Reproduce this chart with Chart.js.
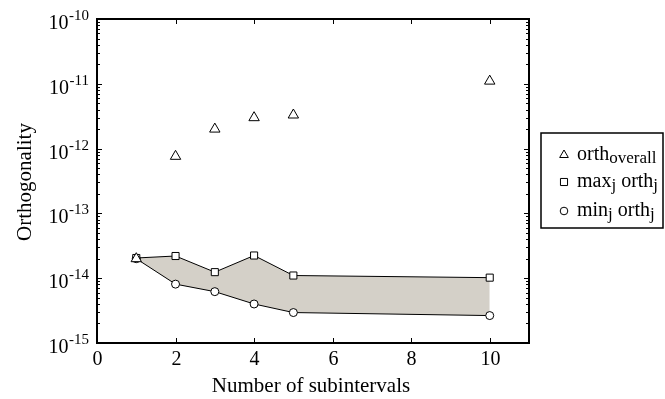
<!DOCTYPE html>
<html>
<head>
<meta charset="utf-8">
<script src="https://cdn.jsdelivr.net/npm/chart.js@4"></script>
<style>
  html, body { margin: 0; padding: 0; background: #fff; }
  canvas { display: block; }
</style>
</head>
<body>
<canvas id="orthChart" width="665" height="399"></canvas>
<script>
// values
const subintervals = [1, 2, 3, 4, 5, 10];
const orthOverall = [2.0e-14, 7.6e-13, 2.0e-12, 3.0e-12, 3.3e-12, 1.1e-11];
const orthMax = [2.05e-14, 2.2e-14, 1.24e-14, 2.24e-14, 1.1e-14, 1.02e-14];
const orthMin = [2.0e-14, 8.1e-15, 6.2e-15, 4.0e-15, 2.95e-15, 2.65e-15];
const xTicks = [0, 2, 4, 6, 8, 10];
const yExponents = [-15, -14, -13, -12, -11, -10];

const FONT = "'Liberation Serif', 'Times New Roman', serif";

function toPoints(ys) {
  return subintervals.map((x, i) => ({ x: x, y: ys[i] }));
}

// frame, inward ticks, labels and legend drawn on top of the chart area
const framePlugin = {
  id: "frame",
  afterDraw(chart) {
    const { ctx, chartArea: a, scales } = chart;
    const xs = scales.x;
    const ys = scales.y;
    ctx.save();
    ctx.strokeStyle = "#000";
    ctx.fillStyle = "#000";

    // x ticks (bottom and top)
    ctx.lineWidth = 1;
    ctx.font = "20px " + FONT;
    ctx.textAlign = "center";
    ctx.textBaseline = "alphabetic";
    xTicks.forEach((t) => {
      const px = Math.round(xs.getPixelForValue(t)) + 0.5;
      ctx.beginPath();
      ctx.moveTo(px, a.bottom);
      ctx.lineTo(px, a.bottom - 5);
      ctx.moveTo(px, a.top);
      ctx.lineTo(px, a.top + 5);
      ctx.stroke();
      ctx.fillText(String(t), px, a.bottom + 22);
    });

    // y ticks (log, with minors) and labels 10^e
    yExponents.forEach((e) => {
      const py = Math.round(ys.getPixelForValue(Math.pow(10, e))) + 0.5;
      ctx.beginPath();
      ctx.moveTo(a.left, py);
      ctx.lineTo(a.left + 5, py);
      ctx.moveTo(a.right, py);
      ctx.lineTo(a.right - 5, py);
      ctx.stroke();
      if (e < yExponents[yExponents.length - 1]) {
        for (let k = 2; k <= 9; k++) {
          const pm = Math.round(ys.getPixelForValue(k * Math.pow(10, e))) + 0.5;
          ctx.beginPath();
          ctx.moveTo(a.left, pm);
          ctx.lineTo(a.left + 3, pm);
          ctx.moveTo(a.right, pm);
          ctx.lineTo(a.right - 3, pm);
          ctx.stroke();
        }
      }
      const sup = "-" + Math.abs(e);
      ctx.font = "15px " + FONT;
      const supW = ctx.measureText(sup).width;
      const right = a.left - 8;
      ctx.textAlign = "left";
      ctx.fillText(sup, right - supW, py);
      ctx.font = "20px " + FONT;
      ctx.textAlign = "right";
      ctx.fillText("10", right - supW - 0.5, py + 9);
    });

    // frame
    ctx.lineWidth = 2;
    ctx.strokeRect(a.left, a.top, a.right - a.left, a.bottom - a.top);

    // axis titles
    ctx.font = "21px " + FONT;
    ctx.textAlign = "center";
    ctx.fillText("Number of subintervals", (a.left + a.right) / 2 - 2, 392);
    ctx.save();
    ctx.translate(31, (a.top + a.bottom) / 2 + 1);
    ctx.rotate(-Math.PI / 2);
    ctx.fillText("Orthogonality", 0, 0);
    ctx.restore();

    // legend
    ctx.lineWidth = 1.5;
    ctx.strokeRect(541, 133, 122, 95);
    const entries = [
      { style: "triangle", r: 5, y: 155, parts: [["orth", 0], ["overall", 1]] },
      { style: "rect", r: 5, y: 182, parts: [["max", 0], ["j", 1], [" orth", 0], ["j", 1]] },
      { style: "circle", r: 3.8, y: 211, parts: [["min", 0], ["j", 1], [" orth", 0], ["j", 1]] },
    ];
    ctx.textAlign = "left";
    entries.forEach((en) => {
      ctx.fillStyle = "#fff";
      ctx.lineWidth = 1;
      Chart.helpers.drawPoint(ctx, { pointStyle: en.style, radius: en.r, rotation: 0, borderWidth: 1 }, 564, en.y);
      ctx.fillStyle = "#000";
      let tx = 577;
      en.parts.forEach(([txt, sub]) => {
        ctx.font = (sub ? "17px " : "20px ") + FONT;
        ctx.fillText(txt, tx, en.y + (sub ? 8 : 5));
        tx += ctx.measureText(txt).width;
      });
    });
    ctx.restore();
  },
};

const ctx = document.getElementById("orthChart").getContext("2d");
const orthChart = new Chart(ctx, {
  type: "scatter",
  data: {
    datasets: [
      {
        label: "orth overall",
        data: toPoints(orthOverall),
        showLine: false,
        pointStyle: "triangle",
        pointRadius: 6,
        pointBorderWidth: 1,
        pointBackgroundColor: "#fff",
        pointBorderColor: "#000",
      },
      {
        label: "max orth",
        data: toPoints(orthMax),
        showLine: true,
        borderColor: "#000",
        borderWidth: 1,
        fill: "+1",
        backgroundColor: "rgb(212, 208, 200)",
        pointStyle: "rect",
        pointRadius: 5,
        pointBorderWidth: 1,
        pointBackgroundColor: "#fff",
        pointBorderColor: "#000",
      },
      {
        label: "min orth",
        data: toPoints(orthMin),
        showLine: true,
        borderColor: "#000",
        borderWidth: 1,
        fill: false,
        pointStyle: "circle",
        pointRadius: 4,
        pointBorderWidth: 1,
        pointBackgroundColor: "#fff",
        pointBorderColor: "#000",
      },
    ],
  },
  options: {
    responsive: false,
    animation: false,
    layout: {
      padding: { left: 97, top: 19, right: 136, bottom: 56 },
    },
    plugins: {
      legend: { display: false },
      tooltip: { enabled: false },
      filler: { drawTime: "beforeDatasetsDraw" },
    },
    scales: {
      x: { type: "linear", min: 0, max: 11, display: false },
      y: { type: "logarithmic", min: 1e-15, max: 1e-10, display: false },
    },
  },
  plugins: [framePlugin],
});
</script>
</body>
</html>
